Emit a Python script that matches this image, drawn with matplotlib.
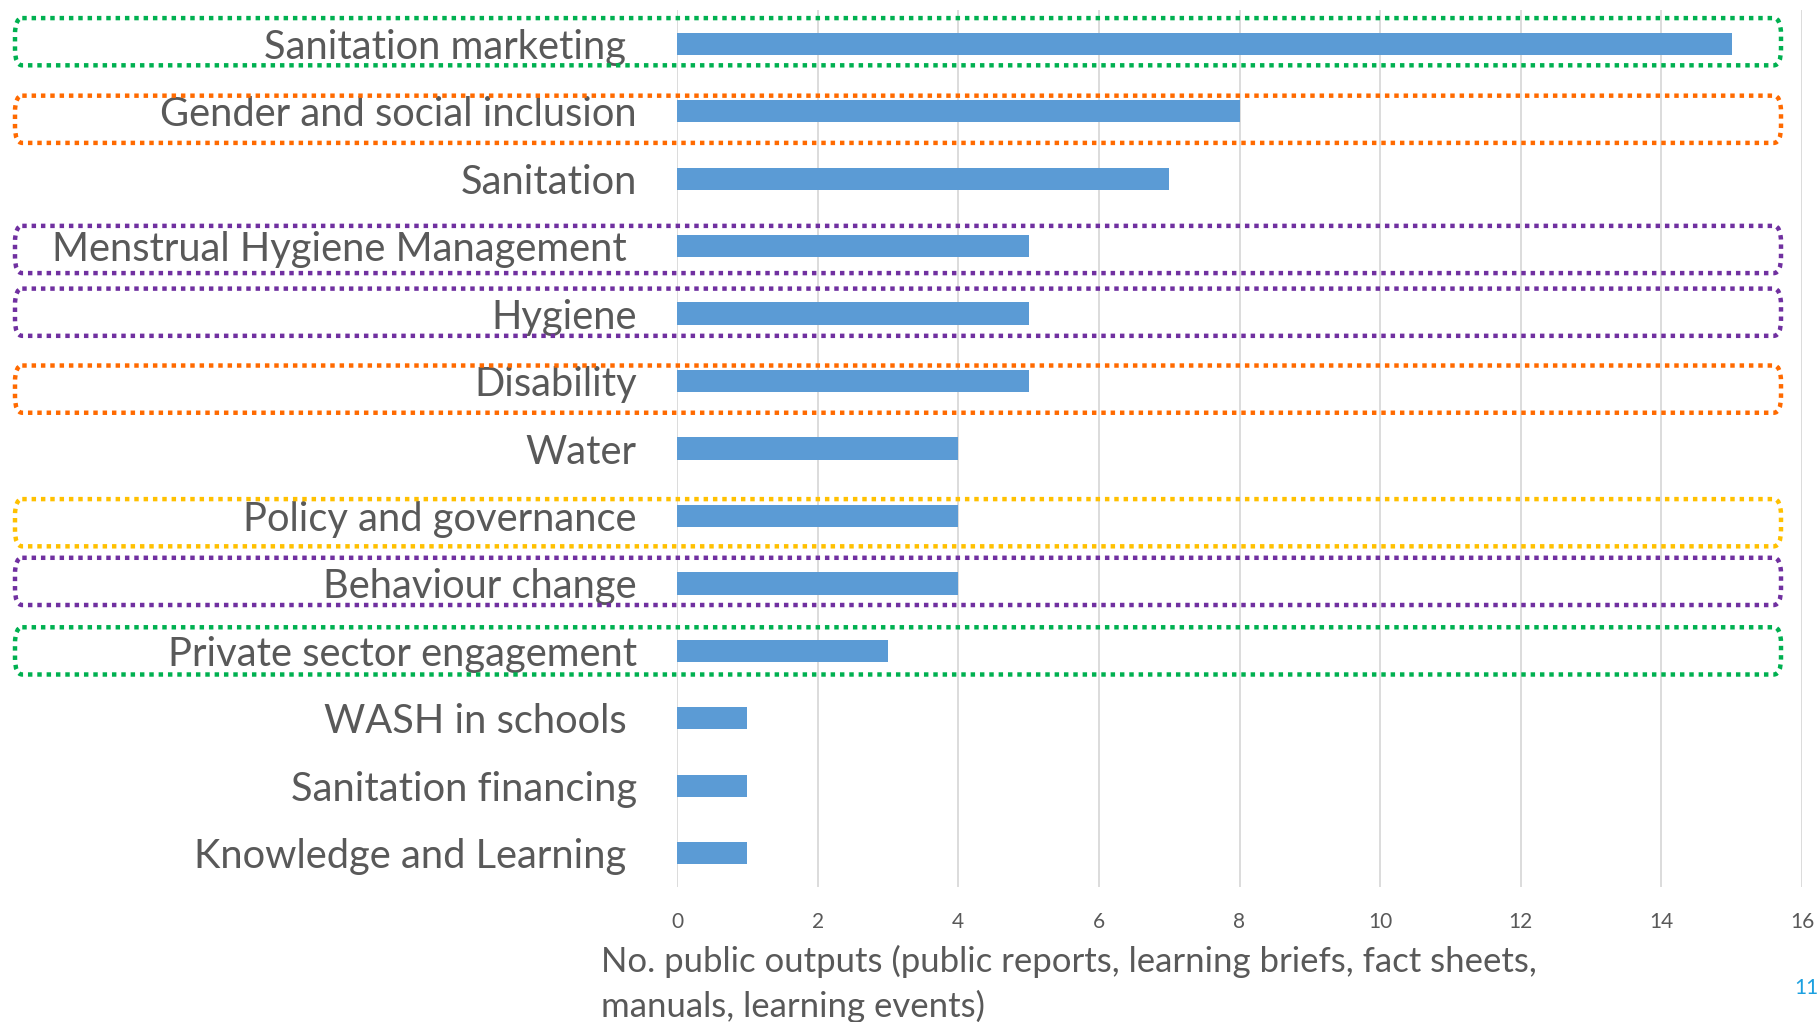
import matplotlib
matplotlib.use("Agg")
import matplotlib.pyplot as plt
from matplotlib.patches import FancyBboxPatch
import matplotlib.transforms as mtransforms

categories = ["Sanitation marketing ", "Gender and social inclusion", "Sanitation",
              "Menstrual Hygiene Management ", "Hygiene", "Disability", "Water",
              "Policy and governance", "Behaviour change", "Private sector engagement",
              "WASH in schools ", "Sanitation financing", "Knowledge and Learning "]
values = [15, 8, 7, 5, 5, 5, 4, 4, 4, 3, 1, 1, 1]
box_colors = ["#00b050", "#ff6a00", None, "#7030a0", "#7030a0", "#ff6a00", None,
              "#ffc000", "#7030a0", "#00b050", None, None, None]
xticks = [0, 2, 4, 6, 8, 10, 12, 14, 16]
xlabel = "No. public outputs (public reports, learning briefs, fact sheets,\nmanuals, learning events)"

# hand-drawn box vertical offsets (in category units)
box_offsets = [-0.03, 0.12, 0, 0.05, -0.02, 0.12, 0, 0.10, -0.03, 0.0, 0, 0, 0]

plt.rcParams['font.family'] = ['Lato', 'DejaVu Sans']

W, H = 1818, 1022
fig = plt.figure(figsize=(W / 100, H / 100), dpi=100)
ax = fig.add_axes([677 / W, 1 - 887 / H, (1802 - 677) / W, (887 - 10) / H])

ypos = list(range(len(categories)))
ax.barh(ypos, values, height=0.33, color="#5b9bd5", zorder=3)
ax.set_ylim(len(categories) - 0.5, -0.5)
ax.set_xlim(0, 16)
ax.set_xticks(xticks)
ax.set_xticklabels([str(t) for t in xticks], fontsize=15, color="#595959")
ax.tick_params(axis="x", length=0, pad=18)
ax.set_yticks(ypos)
ax.set_yticklabels(categories, fontsize=28.7, color="#595959")
ax.tick_params(axis="y", length=0, pad=29)
ax.grid(axis="x", color="#d9d9d9", linewidth=1.3, zorder=0)
for s in ax.spines.values():
    s.set_visible(False)

# dotted boxes
trans = mtransforms.blended_transform_factory(fig.transFigure, ax.transData)
x0, x1 = 15 / W, 1781 / W
for i, c in enumerate(box_colors):
    if c is None:
        continue
    yc = i + box_offsets[i]
    p = FancyBboxPatch((x0, yc - 0.35), x1 - x0, 0.70,
                       boxstyle="round,pad=0,rounding_size=0.004",
                       transform=trans, fill=False, edgecolor=c,
                       linewidth=3.2, linestyle=(0, (1, 1.1)), clip_on=False,
                       mutation_aspect=60, zorder=4)
    fig.add_artist(p)

fig.text(601 / W, 1 - 945 / H, xlabel, fontsize=25, color="#595959",
         ha="left", va="top", linespacing=1.42)
fig.text(1806 / W, 1 - 988 / H, "11", fontsize=15, color="#1ca0e0",
         ha="center", va="center")

fig.savefig("out.png", dpi=100)
